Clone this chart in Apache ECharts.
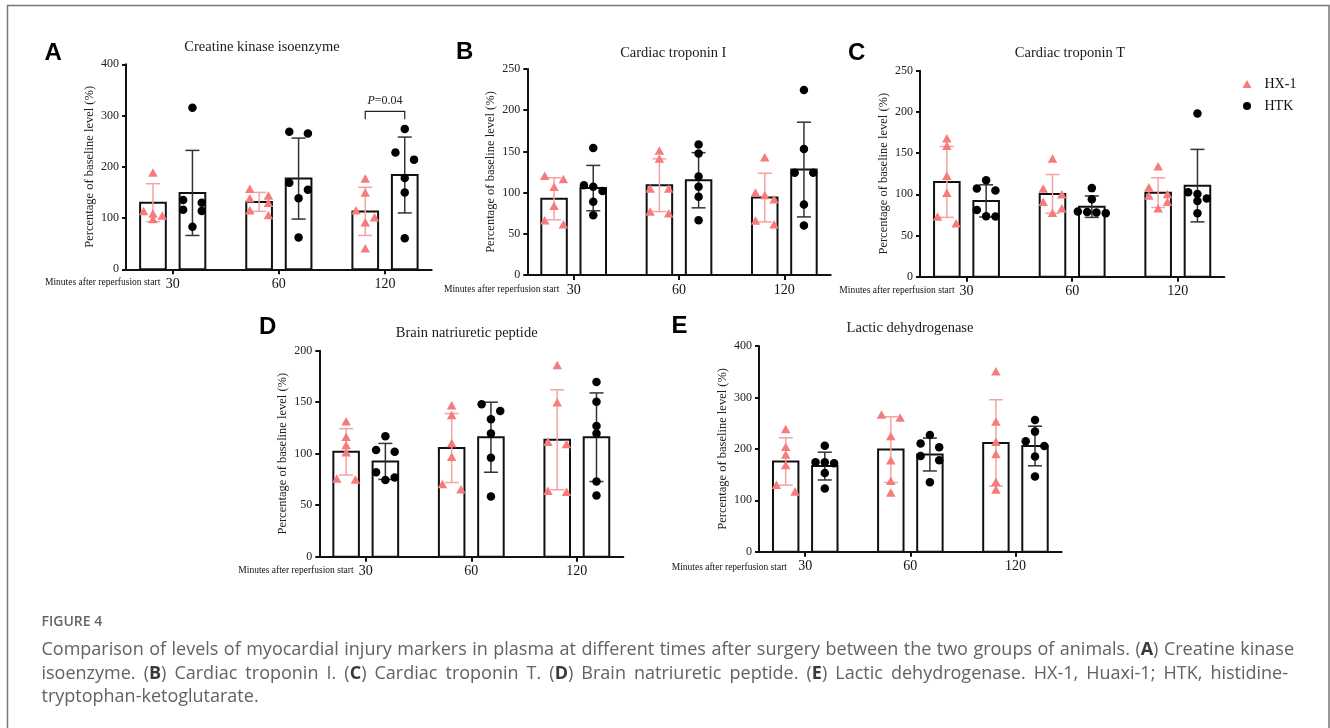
<!DOCTYPE html>
<html>
<head>
<meta charset="utf-8">
<script src="https://cdn.jsdelivr.net/npm/echarts@6/dist/echarts.min.js"></script>
<style>
html,body{margin:0;padding:0;background:#fff;}
#chart{width:1330px;height:728px;}
</style>
</head>
<body>
<div id="chart"></div>
<script>
// ---------------- DATA ----------------
const categories = ['30', '60', '120'];
const seriesNames = ['HX-1', 'HTK'];
const panelTitles = ['Creatine kinase isoenzyme', 'Cardiac troponin I', 'Cardiac troponin T', 'Brain natriuretic peptide', 'Lactic dehydrogenase'];
const panelLetters = ['A', 'B', 'C', 'D', 'E'];
const yAxisName = 'Percentage of baseline level (%)';
const xAxisCaption = 'Minutes after reperfusion start';
const yMaxValues = [400, 250, 250, 200, 400];
const yIntervals = [100, 50, 50, 50, 100];

// Panel A - Creatine kinase isoenzyme
const ckHX1Mean = [130, 131.5, 113];
const ckHX1SD = [37, 18.5, 47];
const ckHTKMean = [149, 177, 184];
const ckHTKSD = [83, 79, 74];
const ckHX1Points = [[189, 114, 109, 105, 98], [157, 144, 138.5, 130, 115, 106], [177, 150, 115, 101.5, 92, 41]];
const ckHTKPoints = [[315, 135, 130, 116, 114, 83], [268.5, 265, 169, 155, 138.5, 62], [274, 228, 214, 178, 150, 60.5]];
const ckAnnotation = { group: 2, label: 'P=0.04', top: 308, foot: 293, labelAt: 328 };

// Panel B - Cardiac troponin I
const ctnIHX1Mean = [92.5, 109, 94];
const ctnIHX1SD = [25.5, 32, 29.5];
const ctnIHTKMean = [105.5, 115, 128];
const ctnIHTKSD = [27.5, 33.5, 57.5];
const ctnIHX1Points = [[120.5, 116.5, 107, 84, 66.5, 61.5], [151, 141.5, 105, 105, 77, 75], [143, 100, 97, 92, 66, 61.5]];
const ctnIHTKPoints = [[154, 109, 107, 102, 89, 72.5], [158.5, 147.5, 119.5, 107, 95, 66.5], [224.5, 153, 124, 124, 85.5, 60]];

// Panel C - Cardiac troponin T
const ctnTHX1Mean = [115, 100.5, 102];
const ctnTHX1SD = [43, 23.5, 18];
const ctnTHTKMean = [92, 85, 110.5];
const ctnTHTKSD = [19.5, 13, 44];
const ctnTHX1Points = [[168, 159, 122.5, 102, 73, 65], [143.5, 107, 100, 91, 83, 77.5], [134, 108.5, 100.5, 98.5, 91, 83]];
const ctnTHTKPoints = [[117, 107, 104.5, 81, 73.5, 73], [107.5, 94, 79, 78.5, 78, 77], [198, 102.5, 100.5, 95, 92, 77]];

// Panel D - Brain natriuretic peptide
const bnpHX1Mean = [101.8, 105.5, 113.5];
const bnpHX1SD = [22.5, 33.5, 48.5];
const bnpHTKMean = [92.5, 116, 116];
const bnpHTKSD = [17.5, 34, 43];
const bnpHX1Points = [[131.5, 116.5, 108.5, 101.5, 76, 75], [147, 137.5, 110.5, 97, 70.5, 65.5], [186, 150, 111.5, 109.5, 64, 63]];
const bnpHTKPoints = [[117, 103.5, 102, 82, 77, 74.5], [148, 141.5, 133.5, 119.5, 96, 58.5], [169.5, 150.5, 127, 119.5, 73, 59.5]];

// Panel E - Lactic dehydrogenase
const ldhHX1Mean = [175.5, 198.5, 211.5];
const ldhHX1SD = [46, 64, 84];
const ldhHTKMean = [166.5, 189, 205.5];
const ldhHTKSD = [27, 32, 38.5];
const ldhHX1Points = [[238.5, 204, 189, 168.5, 130, 117], [267, 261, 225, 178, 138, 115], [351, 253, 214, 190, 136, 121]];
const ldhHTKPoints = [[206, 174, 174, 172, 153, 123], [227, 210.5, 203, 186, 178, 135], [256, 233.5, 215, 205.5, 185, 146]];

// Caption
const captionHeading = 'FIGURE 4';
const captionLines = [
  'Comparison of levels of myocardial injury markers in plasma at different times after surgery between the two groups of animals. (A) Creatine kinase',
  'isoenzyme. (B) Cardiac troponin I. (C) Cardiac troponin T. (D) Brain natriuretic peptide. (E) Lactic dehydrogenase. HX-1, Huaxi-1; HTK, histidine-',
  'tryptophan-ketoglutarate.'
];

// ---------------- LAYOUT / STYLE ----------------
const SERIF = '"Liberation Serif", "Times New Roman", serif';
const SANS = '"Liberation Sans", Arial, sans-serif';
const CAPFONT = '"Open Sans", "Noto Sans", sans-serif';
const XMIN = -0.44, XMAX = 2.44;
const BAR_OFFSET = 0.186, BAR_HALF = 0.121;
const COL_PX = 9.3, ROW_PX = 7.2, CAP_PX = 7;
const HX1_COLOR = '#F77B7B', HX1_ERR = '#F4A3A3', HTK_COLOR = '#000000', HTK_ERR = '#333333';
const AXIS_COLOR = '#111111';

const panelLayout = [
  { rect: [126, 64.3, 305.7, 205], title: [262, 47.5], letter: [44.5, 53.5], minutes: [45, 282.3] },
  { rect: [527.3, 69, 303.4, 206], title: [673.3, 52.7], letter: [456, 52.5], minutes: [444, 289.3] },
  { rect: [920, 70.7, 304.3, 206], title: [1070, 52.7], letter: [848, 53.5], minutes: [839.3, 290.7] },
  { rect: [319.3, 350.7, 304, 206], title: [466.7, 332.7], letter: [259, 327], minutes: [238.3, 570.7] },
  { rect: [759, 346, 302.7, 205.7], title: [910, 328.3], letter: [671.5, 326.7], minutes: [671.7, 567] }
];

const panelData = [
  [ckHX1Mean, ckHX1SD, ckHX1Points, ckHTKMean, ckHTKSD, ckHTKPoints],
  [ctnIHX1Mean, ctnIHX1SD, ctnIHX1Points, ctnIHTKMean, ctnIHTKSD, ctnIHTKPoints],
  [ctnTHX1Mean, ctnTHX1SD, ctnTHX1Points, ctnTHTKMean, ctnTHTKSD, ctnTHTKPoints],
  [bnpHX1Mean, bnpHX1SD, bnpHX1Points, bnpHTKMean, bnpHTKSD, bnpHTKPoints],
  [ldhHX1Mean, ldhHX1SD, ldhHX1Points, ldhHTKMean, ldhHTKSD, ldhHTKPoints]
];

// beeswarm-like column assignment (GraphPad style rows)
function swarmCols(values, pxPerUnitY) {
  const order = values.map((v, i) => i).sort((a, b) => values[b] - values[a]);
  const cols = new Array(values.length).fill(0);
  let rows = [];
  let cur = [];
  order.forEach(idx => {
    if (cur.length && (values[cur[0]] - values[idx]) * pxPerUnitY >= ROW_PX) { rows.push(cur); cur = []; }
    cur.push(idx);
  });
  if (cur.length) rows.push(cur);
  rows.forEach(r => {
    const n = r.length;
    r.forEach((idx, k) => {
      cols[idx] = n === 2 ? (k === 0 ? -1 : 1) : (k - (n - 1) / 2);
    });
  });
  return cols;
}

function barRender(offset) {
  return function (params, api) {
    const x = api.value(0) + offset;
    const v = api.value(1);
    const p0 = api.coord([x - BAR_HALF, v]);
    const p1 = api.coord([x + BAR_HALF, 0]);
    return {
      type: 'rect',
      shape: { x: p0[0], y: p0[1], width: p1[0] - p0[0], height: p1[1] - p0[1] },
      style: { fill: '#ffffff', stroke: AXIS_COLOR, lineWidth: 2 }
    };
  };
}

function errRender(offset, color) {
  return function (params, api) {
    const x = api.value(0) + offset;
    const m = api.value(1), sd = api.value(2);
    const t = api.coord([x, m + sd]);
    const b = api.coord([x, m - sd]);
    const cx = t[0];
    const st = { stroke: color, lineWidth: 1.5 };
    return {
      type: 'group',
      children: [
        { type: 'line', shape: { x1: cx, y1: t[1], x2: cx, y2: b[1] }, style: st },
        { type: 'line', shape: { x1: cx - CAP_PX, y1: t[1], x2: cx + CAP_PX, y2: t[1] }, style: st },
        { type: 'line', shape: { x1: cx - CAP_PX, y1: b[1], x2: cx + CAP_PX, y2: b[1] }, style: st }
      ]
    };
  };
}

const grids = [], xAxes = [], yAxes = [], series = [], graphics = [];

panelLayout.forEach((lay, i) => {
  const [l, t, w, h] = lay.rect;
  grids.push({ left: l, top: t, width: w, height: h, containLabel: false, outerBoundsMode: 'none' });
  xAxes.push({
    type: 'value', gridIndex: i, min: XMIN, max: XMAX,
    axisLine: { show: true, onZero: false, lineStyle: { color: AXIS_COLOR, width: 2 } },
    axisTick: { show: true, customValues: [0, 1, 2], length: 5, lineStyle: { color: AXIS_COLOR, width: 2 } },
    axisLabel: { customValues: [0, 1, 2], formatter: v => categories[Math.round(v)], fontFamily: SERIF, fontSize: 14, color: '#111', margin: 8 },
    splitLine: { show: false }
  });
  yAxes.push({
    type: 'value', gridIndex: i, min: 0, max: yMaxValues[i], interval: yIntervals[i],
    axisLine: { show: true, onZero: false, lineStyle: { color: AXIS_COLOR, width: 2 } },
    axisTick: { show: true, length: 4, lineStyle: { color: AXIS_COLOR, width: 2 } },
    axisLabel: { fontFamily: SERIF, fontSize: 12, color: '#222', margin: 7 },
    splitLine: { show: false },
    name: yAxisName, nameLocation: 'middle', nameGap: 30,
    nameTextStyle: { fontFamily: SERIF, fontSize: 12.5, color: '#222' }
  });

  const [hMean, hSD, hPts, kMean, kSD, kPts] = panelData[i];
  const pxX = w / (XMAX - XMIN);
  const pxY = h / yMaxValues[i];

  [[hMean, hSD, -BAR_OFFSET, HX1_ERR], [kMean, kSD, BAR_OFFSET, HTK_ERR]].forEach(([mean, sd, off, ec]) => {
    series.push({
      type: 'custom', xAxisIndex: i, yAxisIndex: i, z: 2, silent: true,
      renderItem: barRender(off), data: mean.map((m, g) => [g, m])
    });
    series.push({
      type: 'custom', xAxisIndex: i, yAxisIndex: i, z: 3, silent: true,
      renderItem: errRender(off, ec), data: mean.map((m, g) => [g, m, sd[g]])
    });
  });

  function scatterData(pts, off) {
    const out = [];
    pts.forEach((vals, g) => {
      const cols = swarmCols(vals, pxY);
      vals.forEach((v, k) => out.push([g + off + cols[k] * COL_PX / pxX, v]));
    });
    return out;
  }
  series.push({
    type: 'scatter', name: seriesNames[0], xAxisIndex: i, yAxisIndex: i, z: 4, silent: true,
    symbol: 'triangle', symbolSize: [9.5, 8.5], itemStyle: { color: HX1_COLOR, opacity: 1 },
    data: scatterData(hPts, -BAR_OFFSET)
  });
  series.push({
    type: 'scatter', name: seriesNames[1], xAxisIndex: i, yAxisIndex: i, z: 4, silent: true,
    symbol: 'circle', symbolSize: 8.5, itemStyle: { color: HTK_COLOR, opacity: 1 },
    data: scatterData(kPts, BAR_OFFSET)
  });

  // titles, letters, x caption
  graphics.push({
    type: 'text', x: lay.title[0], y: lay.title[1], silent: true,
    style: { text: panelTitles[i], font: '14.5px ' + SERIF, fill: '#1a1a1a', align: 'center', verticalAlign: 'middle', textAlign: 'center', textVerticalAlign: 'middle' }
  });
  graphics.push({
    type: 'text', x: lay.letter[0], y: lay.letter[1], silent: true,
    style: { text: panelLetters[i], font: 'bold 24px ' + SANS, fill: '#000', align: 'left', verticalAlign: 'middle', textAlign: 'left', textVerticalAlign: 'middle' }
  });
  graphics.push({
    type: 'text', x: lay.minutes[0], y: lay.minutes[1], silent: true,
    style: { text: xAxisCaption, font: '9.5px ' + SERIF, fill: '#111', align: 'left', verticalAlign: 'middle', textAlign: 'left', textVerticalAlign: 'middle' }
  });
});

// significance bracket on panel A
series.push({
  type: 'custom', xAxisIndex: 0, yAxisIndex: 0, z: 5, silent: true,
  data: [[ckAnnotation.group, ckAnnotation.top, ckAnnotation.foot, ckAnnotation.labelAt]],
  renderItem: function (params, api) {
    const g = api.value(0);
    const a = api.coord([g - BAR_OFFSET, api.value(2)]);
    const b = api.coord([g - BAR_OFFSET, api.value(1)]);
    const c = api.coord([g + BAR_OFFSET, api.value(1)]);
    const d = api.coord([g + BAR_OFFSET, api.value(2)]);
    const lp = api.coord([g, api.value(3)]);
    return {
      type: 'group', children: [
        { type: 'polyline', shape: { points: [a, b, c, d] }, style: { stroke: '#222', lineWidth: 1.2, fill: 'none' } },
        { type: 'text', x: lp[0], y: lp[1], style: {
            text: '{i|P}{n|=0.04}', align: 'center', verticalAlign: 'middle', textAlign: 'center', textVerticalAlign: 'middle',
            rich: { i: { fontFamily: SERIF, fontSize: 12, fontStyle: 'italic', fill: '#222', color: '#222' },
                    n: { fontFamily: SERIF, fontSize: 12, fill: '#222', color: '#222' } } } }
      ]
    };
  }
});

// frame
graphics.push({ type: 'rect', silent: true, z: -1, shape: { x: 7.5, y: 5.5, width: 1321.5, height: 760 }, style: { fill: 'none', stroke: '#777', lineWidth: 1.5 } });

// caption (justified words)
const ctx = document.createElement('canvas').getContext('2d');
function fontStr(size, bold) { return (bold ? '700 ' : '400 ') + size + 'px ' + CAPFONT; }
function measure(text, size, bold) { ctx.font = fontStr(size, bold); return ctx.measureText(text).width; }
function tokenize(word) {
  const m = word.match(/^\(([A-E])\)$/);
  if (m) return [{ t: '(', b: false }, { t: m[1], b: true }, { t: ')', b: false }];
  return [{ t: word, b: false }];
}
const CAP_LEFT = 41.5;
const capRights = [1294, 1288, null];
const capYs = [650, 673.5, 697];
let capSize = 16;
(function () {
  const words = captionLines[0].split(' ');
  let wsum = 0;
  words.forEach(wd => tokenize(wd).forEach(s => wsum += measure(s.t, 16, s.b)));
  const natural = wsum + (words.length - 1) * measure(' ', 16, false);
  capSize = Math.max(14, Math.min(18, 16 * (capRights[0] - CAP_LEFT - 8) / natural));
})();
captionLines.forEach((line, li) => {
  const words = line.split(' ').map(tokenize);
  const widths = words.map(segs => segs.reduce((s, sg) => s + measure(sg.t, capSize, sg.b), 0));
  const total = widths.reduce((a, b) => a + b, 0);
  const gap = capRights[li] ? (capRights[li] - CAP_LEFT - total) / (words.length - 1) : measure(' ', capSize, false);
  let x = CAP_LEFT;
  words.forEach((segs, wi) => {
    let sx = x;
    segs.forEach(sg => {
      graphics.push({ type: 'text', x: sx, y: capYs[li], silent: true,
        style: { text: sg.t, font: fontStr(capSize, sg.b), fill: sg.b ? '#3a3a3a' : '#626262', align: 'left', verticalAlign: 'middle', textAlign: 'left', textVerticalAlign: 'middle' } });
      sx += measure(sg.t, capSize, sg.b);
    });
    x += widths[wi] + gap;
  });
});
graphics.push({ type: 'text', x: CAP_LEFT, y: 622, silent: true,
  style: { text: captionHeading, font: '600 14px ' + CAPFONT, fill: '#666', align: 'left', verticalAlign: 'middle', textAlign: 'left', textVerticalAlign: 'middle' } });

const option = {
  animation: false,
  backgroundColor: '#ffffff',
  grid: grids,
  xAxis: xAxes,
  yAxis: yAxes,
  legend: {
    data: [{ name: 'HX-1', icon: 'triangle' }, { name: 'HTK', icon: 'circle' }],
    orient: 'vertical', left: 1237.5, top: 72, itemWidth: 9, itemHeight: 8, itemGap: 8,
    selectedMode: false,
    textStyle: { fontFamily: SERIF, fontSize: 14, color: '#111', padding: [0, 0, 0, 8] }
  },
  graphic: { elements: graphics },
  series: series
};

const chart = echarts.init(document.getElementById('chart'), null, { renderer: 'canvas' });
chart.setOption(option);
</script>
</body>
</html>
